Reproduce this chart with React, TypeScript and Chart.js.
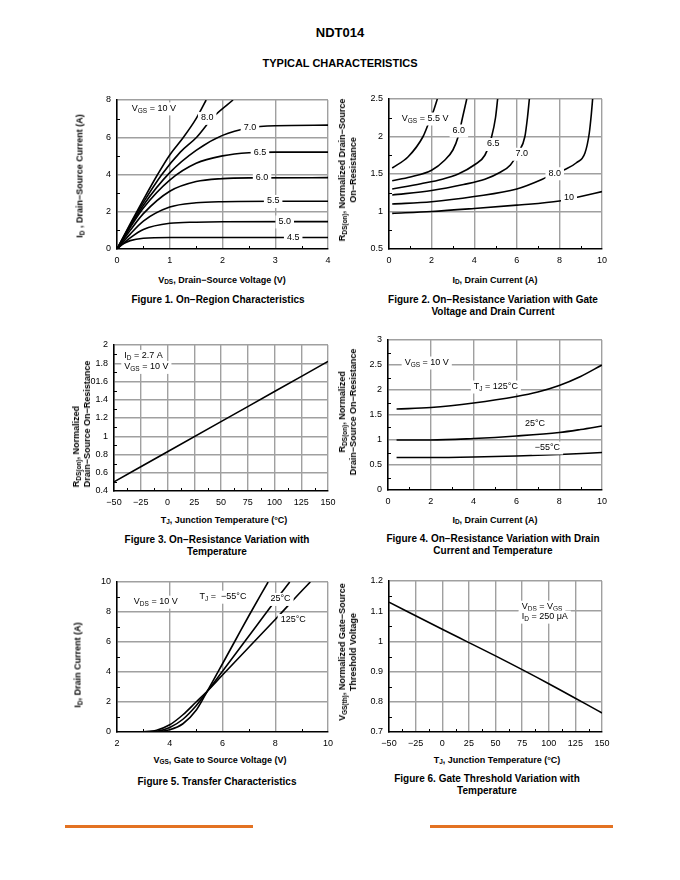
import React, { useEffect, useRef } from 'react';
import { Chart, registerables } from 'chart.js';

Chart.register(...registerables);

const FONT = '"Liberation Sans", Arial, Helvetica, sans-serif';
const GRID = '#a0a0a0';

type Pt = [number, number];
type Part = [string, boolean?];
type Lbl = { x: number; y: number; parts: Part[]; align?: 'left' | 'center'; bg?: boolean };

// ---------------- Figure 1: On-Region Characteristics ----------------
const F1_X_TICKS = [0, 1, 2, 3, 4];
const F1_X_LABELS = ['0', '1', '2', '3', '4'];
const F1_Y_TICKS = [0, 2, 4, 6, 8];
const F1_Y_LABELS = ['0', '2', '4', '6', '8'];
const F1_VGS_10: Pt[] = [[0, 0], [0.25, 1.35], [0.5, 2.65], [0.77, 4.0], [1.0, 5.05], [1.26, 6.0], [1.5, 7.0], [1.69, 8.0]];
const F1_VGS_8: Pt[] = [[0, 0], [0.25, 1.3], [0.5, 2.5], [0.85, 4.0], [1.2, 5.2], [1.51, 6.0], [1.83, 7.1], [2.2, 8.0]];
const F1_VGS_7: Pt[] = [[0, 0], [0.25, 1.2], [0.5, 2.35], [1.0, 4.1], [1.5, 5.3], [2.0, 6.1], [2.5, 6.5], [3.0, 6.62], [4.0, 6.65]];
const F1_VGS_65: Pt[] = [[0, 0], [0.25, 1.15], [0.5, 2.2], [1.0, 3.7], [1.5, 4.6], [2.0, 5.0], [2.5, 5.17], [3.0, 5.2], [4.0, 5.2]];
const F1_VGS_6: Pt[] = [[0, 0], [0.25, 1.0], [0.5, 1.9], [1.0, 3.1], [1.5, 3.62], [2.0, 3.78], [2.5, 3.82], [4.0, 3.83]];
const F1_VGS_55: Pt[] = [[0, 0], [0.25, 0.8], [0.5, 1.5], [1.0, 2.25], [1.5, 2.48], [2.0, 2.54], [3.0, 2.56], [4.0, 2.56]];
const F1_VGS_5: Pt[] = [[0, 0], [0.25, 0.6], [0.5, 1.05], [1.0, 1.38], [1.5, 1.44], [2.0, 1.46], [4.0, 1.47]];
const F1_VGS_45: Pt[] = [[0, 0], [0.1, 0.25], [0.25, 0.45], [0.5, 0.58], [1.0, 0.62], [4.0, 0.62]];
const F1_LABELS: Lbl[] = [
  { x: 0.28, y: 7.55, parts: [['V'], ['GS', true], [' = 10 V']], align: 'left', bg: true },
  { x: 1.71, y: 7.04, parts: [['8.0']], bg: true },
  { x: 2.52, y: 6.5, parts: [['7.0']], bg: true },
  { x: 2.71, y: 5.16, parts: [['6.5']], bg: true },
  { x: 2.75, y: 3.84, parts: [['6.0']], bg: true },
  { x: 2.96, y: 2.58, parts: [['5.5']], bg: true },
  { x: 3.18, y: 1.48, parts: [['5.0']], bg: true },
  { x: 3.34, y: 0.6, parts: [['4.5']], bg: true },
];

// ---------------- Figure 2: On-Resistance vs Gate Voltage & Drain Current ----------------
const F2_X_TICKS = [0, 2, 4, 6, 8, 10];
const F2_X_LABELS = ['0', '2', '4', '6', '8', '10'];
const F2_Y_TICKS = [0.5, 1, 1.5, 2, 2.5];
const F2_Y_LABELS = ['0.5', '1', '1.5', '2', '2.5'];
const F2_VGS_55: Pt[] = [[0.15, 1.58], [0.9, 1.73], [1.6, 2.0], [1.85, 2.17], [2.1, 2.35], [2.27, 2.5]];
const F2_VGS_6: Pt[] = [[0.15, 1.41], [1.0, 1.46], [2.0, 1.55], [2.6, 1.68], [3.0, 1.82], [3.25, 2.0], [3.45, 2.25], [3.65, 2.5]];
const F2_VGS_65: Pt[] = [[0.15, 1.3], [1.5, 1.37], [2.5, 1.43], [3.25, 1.5], [4.0, 1.62], [4.5, 1.75], [4.82, 2.0], [5.0, 2.25], [5.1, 2.5]];
const F2_VGS_7: Pt[] = [[0.15, 1.22], [2.0, 1.28], [3.5, 1.36], [4.5, 1.43], [5.2, 1.52], [5.7, 1.62], [6.1, 1.8], [6.38, 2.0], [6.5, 2.25], [6.59, 2.5]];
const F2_VGS_8: Pt[] = [[0.15, 1.1], [2.0, 1.13], [4.0, 1.2], [6.0, 1.3], [7.2, 1.43], [7.7, 1.5], [8.26, 1.56], [8.8, 1.65], [9.2, 1.78], [9.4, 2.04], [9.5, 2.3], [9.56, 2.5]];
const F2_VGS_10: Pt[] = [[0.15, 0.975], [2.0, 1.0], [4.0, 1.04], [6.0, 1.085], [8.0, 1.14], [8.5, 1.17], [9.0, 1.2], [10, 1.265]];
const F2_LABELS: Lbl[] = [
  { x: 0.6, y: 2.24, parts: [['V'], ['GS', true], [' = 5.5 V']], align: 'left', bg: true },
  { x: 3.28, y: 2.08, parts: [['6.0']], bg: true },
  { x: 4.9, y: 1.9, parts: [['6.5']], bg: true },
  { x: 6.23, y: 1.77, parts: [['7.0']], bg: true },
  { x: 7.78, y: 1.51, parts: [['8.0']], bg: true },
  { x: 8.45, y: 1.18, parts: [['10']], bg: true },
];

// ---------------- Figure 3: On-Resistance vs Temperature ----------------
const F3_X_TICKS = [-50, -25, 0, 25, 50, 75, 100, 125, 150];
const F3_X_LABELS = ['\u221250', '\u221225', '0', '25', '50', '75', '100', '125', '150'];
const F3_Y_TICKS = [0.4, 0.6, 0.8, 1, 1.2, 1.4, 1.6, 1.8, 2];
const F3_Y_LABELS = ['0.4', '0.6', '0.8', '1', '1.2', '1.4', '01.6', '1.8', '2'];
const F3_RDS: Pt[] = [[-50, 0.5], [0, 0.83], [50, 1.16], [100, 1.49], [150, 1.82]];
const F3_LABELS: Lbl[] = [
  { x: -40.4, y: 1.88, parts: [['I'], ['D', true], [' = 2.7 A']], align: 'left', bg: true },
  { x: -40.4, y: 1.76, parts: [['V'], ['GS', true], [' = 10 V']], align: 'left', bg: true },
];

// ---------------- Figure 4: On-Resistance vs Drain Current & Temperature ----------------
const F4_X_TICKS = [0, 2, 4, 6, 8, 10];
const F4_X_LABELS = ['0', '2', '4', '6', '8', '10'];
const F4_Y_TICKS = [0, 0.5, 1, 1.5, 2, 2.5, 3];
const F4_Y_LABELS = ['0', '0.5', '1', '1.5', '2', '2.5', '3'];
const F4_TJ_125: Pt[] = [[0.4, 1.62], [2, 1.65], [4, 1.74], [6, 1.87], [7, 1.96], [8, 2.09], [9, 2.27], [10, 2.5]];
const F4_TJ_25: Pt[] = [[0.4, 1.0], [2, 1.0], [4, 1.03], [6, 1.08], [8, 1.15], [9, 1.21], [10, 1.28]];
const F4_TJ_M55: Pt[] = [[0.4, 0.65], [2, 0.65], [4, 0.66], [6, 0.68], [8, 0.71], [10, 0.75]];
const F4_LABELS: Lbl[] = [
  { x: 1.81, y: 2.55, parts: [['V'], ['GS', true], [' = 10 V']], bg: true },
  { x: 5.04, y: 2.07, parts: [['T'], ['J', true], [' = 125\u00B0C']], bg: true },
  { x: 6.87, y: 1.32, parts: [['25\u00B0C']], bg: true },
  { x: 7.45, y: 0.85, parts: [['\u221255\u00B0C']], bg: true },
];

// ---------------- Figure 5: Transfer Characteristics ----------------
const F5_X_TICKS = [2, 4, 6, 8, 10];
const F5_X_LABELS = ['2', '4', '6', '8', '10'];
const F5_Y_TICKS = [0, 2, 4, 6, 8, 10];
const F5_Y_LABELS = ['0', '2', '4', '6', '8', '10'];
const F5_TJ_M55: Pt[] = [[2.6, 0], [3.5, 0.02], [4.0, 0.15], [4.5, 0.55], [5.0, 1.45], [5.4, 2.65], [6.0, 4.55], [6.5, 6.15], [7.0, 7.75], [7.73, 10]];
const F5_TJ_25: Pt[] = [[2.6, 0], [3.5, 0.05], [4.0, 0.3], [4.5, 0.85], [5.0, 1.75], [5.4, 2.65], [6.0, 4.05], [7.0, 6.4], [8.0, 8.75], [8.55, 10]];
const F5_TJ_125: Pt[] = [[2.6, 0], [3.0, 0.02], [3.5, 0.12], [4.0, 0.48], [4.5, 1.15], [5.0, 2.0], [5.4, 2.68], [6.0, 3.8], [7.0, 5.65], [8.0, 7.5], [9.0, 9.4], [9.33, 10]];
const F5_LABELS: Lbl[] = [
  { x: 3.47, y: 8.69, parts: [['V'], ['DS', true], [' = 10 V']], bg: true },
  { x: 6.02, y: 9.02, parts: [['T'], ['J', true], [' =  \u221255\u00B0C']], bg: true },
  { x: 8.2, y: 8.87, parts: [['25\u00B0C']], bg: true },
  { x: 8.68, y: 7.47, parts: [['125\u00B0C']], bg: true },
];

// ---------------- Figure 6: Gate Threshold vs Temperature ----------------
const F6_X_TICKS = [-50, -25, 0, 25, 50, 75, 100, 125, 150];
const F6_X_LABELS = ['\u221250', '\u221225', '0', '25', '50', '75', '100', '125', '150'];
const F6_Y_TICKS = [0.7, 0.8, 0.9, 1, 1.1, 1.2];
const F6_Y_LABELS = ['0.7', '0.8', '0.9', '1', '1.1', '1.2'];
const F6_VTH: Pt[] = [[-50, 1.13], [0, 1.04], [50, 0.952], [100, 0.86], [150, 0.763]];
const F6_LABELS: Lbl[] = [
  { x: 74.6, y: 1.115, parts: [['V'], ['DS', true], [' = V'], ['GS', true]], align: 'left', bg: true },
  { x: 74.6, y: 1.082, parts: [['I'], ['D', true], [' = 250 \u03BCA']], align: 'left', bg: true },
];

// ---------------- layout constants ----------------
const PAD_L = 45;
const PAD_R = 15;
const PAD_T = 12;
const PAD_B = 22;
const MAIN_FONT = `9px ${FONT}`;
const SUB_FONT = `6.5px ${FONT}`;

const richLabelPlugin = {
  id: 'richLabels',
  afterDatasetsDraw(chart: any, _args: any, opts: any) {
    const { ctx, scales } = chart;
    const items: Lbl[] = opts.items || [];
    ctx.save();
    ctx.textBaseline = 'middle';
    for (const it of items) {
      let w = 0;
      for (const [t, sub] of it.parts) {
        ctx.font = sub ? SUB_FONT : MAIN_FONT;
        w += ctx.measureText(t).width;
      }
      const px = scales.x.getPixelForValue(it.x);
      const py = scales.y.getPixelForValue(it.y);
      let sx = it.align === 'left' ? px : px - w / 2;
      if (it.bg) {
        ctx.fillStyle = '#ffffff';
        ctx.fillRect(sx - 3, py - 6, w + 6, 13);
      }
      ctx.fillStyle = '#000000';
      for (const [t, sub] of it.parts) {
        ctx.font = sub ? SUB_FONT : MAIN_FONT;
        ctx.fillText(t, sx, py + (sub ? 2.5 : 0));
        sx += ctx.measureText(t).width;
      }
    }
    ctx.restore();
  },
};

const minorTickPlugin = {
  id: 'minorTicks',
  afterDraw(chart: any) {
    const { ctx, chartArea: a, scales } = chart;
    ctx.save();
    ctx.strokeStyle = '#000';
    ctx.lineWidth = 1;
    const xs = scales.x.ticks.map((t: any) => t.value);
    for (let i = 0; i < xs.length - 1; i++) {
      const px = Math.round(scales.x.getPixelForValue((xs[i] + xs[i + 1]) / 2)) + 0.5;
      ctx.beginPath();
      ctx.moveTo(px, a.bottom);
      ctx.lineTo(px, a.bottom - 3);
      ctx.stroke();
    }
    const ys = scales.y.ticks.map((t: any) => t.value);
    for (let i = 0; i < ys.length - 1; i++) {
      const py = Math.round(scales.y.getPixelForValue((ys[i] + ys[i + 1]) / 2)) + 0.5;
      ctx.beginPath();
      ctx.moveTo(a.left, py);
      ctx.lineTo(a.left + 3, py);
      ctx.stroke();
    }
    ctx.restore();
  },
};

function axis(values: number[], labels: string[], isX: boolean) {
  return {
    type: 'linear',
    min: values[0],
    max: values[values.length - 1],
    afterBuildTicks: (sc: any) => {
      sc.ticks = values.map((v) => ({ value: v }));
    },
    afterFit: (sc: any) => {
      if (isX) sc.height = PAD_B;
      else sc.width = PAD_L;
    },
    ticks: {
      callback: (v: number, i: number) => (labels[i] !== undefined ? labels[i] : String(v)),
      color: '#000',
      font: { family: FONT, size: 9 },
      padding: 6,
      maxRotation: 0,
      autoSkip: false,
    },
    grid: {
      color: (c: any) => (c.index === 0 ? 'rgba(0,0,0,0)' : GRID),
      lineWidth: 1.4,
      drawTicks: false,
    },
    border: { color: '#000', width: 1.6 },
  };
}

type Spec = {
  xTicks: number[]; xLabels: string[]; yTicks: number[]; yLabels: string[];
  series: Pt[][]; labels: Lbl[]; straight?: boolean;
};

function MiniChart({ left, top, w, h, spec }: { left: number; top: number; w: number; h: number; spec: Spec }) {
  const ref = useRef<HTMLCanvasElement | null>(null);
  useEffect(() => {
    if (!ref.current) return;
    const chart = new Chart(ref.current, {
      type: 'line',
      data: {
        datasets: spec.series.map((pts) => ({
          data: pts.map(([x, y]) => ({ x, y })),
          borderColor: '#000',
          borderWidth: 1.6,
          pointRadius: 0,
          fill: false,
          cubicInterpolationMode: 'monotone',
        })),
      },
      options: {
        responsive: false,
        animation: false,
        events: [],
        layout: { padding: { left: 0, top: PAD_T, right: PAD_R, bottom: 0 } },
        plugins: {
          legend: { display: false },
          tooltip: { enabled: false },
          richLabels: { items: spec.labels },
        } as any,
        scales: {
          x: axis(spec.xTicks, spec.xLabels, true),
          y: axis(spec.yTicks, spec.yLabels, false),
        } as any,
      },
      plugins: [richLabelPlugin, minorTickPlugin],
    } as any);
    return () => chart.destroy();
  }, []);
  const W = w + PAD_L + PAD_R;
  const H = h + PAD_T + PAD_B;
  return (
    <canvas
      ref={ref}
      width={W}
      height={H}
      style={{ position: 'absolute', left: left - PAD_L, top: top - PAD_T, width: W, height: H }}
    />
  );
}

function Txt({ x, y, size = 9, bold = true, rot = false, lh, align = 'center', children }: any) {
  return (
    <div
      style={{
        position: 'absolute',
        left: x,
        top: y,
        transform: `translate(-50%, -50%)${rot ? ' rotate(-90deg)' : ''}`,
        fontFamily: FONT,
        fontSize: size,
        fontWeight: bold ? 700 : 400,
        whiteSpace: 'nowrap',
        lineHeight: `${lh || Math.round(size * 1.2)}px`,
        textAlign: align,
        color: '#000',
      }}
    >
      {children}
    </div>
  );
}

function Sub({ children }: any) {
  return <span style={{ fontSize: '0.72em', verticalAlign: '-0.3em', lineHeight: 0 }}>{children}</span>;
}

export default function App() {
  return (
    <div style={{ position: 'absolute', left: 0, top: 0, width: 680, height: 880, background: '#fff', overflow: 'hidden' }}>
      <Txt x={340} y={33} size={13}>NDT014</Txt>
      <Txt x={340} y={63} size={11}>TYPICAL CHARACTERISTICS</Txt>

      {/* Figure 1 */}
      <MiniChart left={117} top={100} w={211} h={149} spec={{
        xTicks: F1_X_TICKS, xLabels: F1_X_LABELS, yTicks: F1_Y_TICKS, yLabels: F1_Y_LABELS,
        series: [F1_VGS_10, F1_VGS_8, F1_VGS_7, F1_VGS_65, F1_VGS_6, F1_VGS_55, F1_VGS_5, F1_VGS_45],
        labels: F1_LABELS,
      }} />
      <Txt x={80} y={176} rot>I<Sub>D</Sub> , Drain&#8722;Source Current (A)</Txt>
      <Txt x={222} y={280}>V<Sub>DS</Sub>, Drain&#8722;Source Voltage (V)</Txt>
      <Txt x={218} y={300} size={10}>Figure 1. On&#8722;Region Characteristics</Txt>

      {/* Figure 2 */}
      <MiniChart left={389} top={99} w={213} h={150} spec={{
        xTicks: F2_X_TICKS, xLabels: F2_X_LABELS, yTicks: F2_Y_TICKS, yLabels: F2_Y_LABELS,
        series: [F2_VGS_55, F2_VGS_6, F2_VGS_65, F2_VGS_7, F2_VGS_8, F2_VGS_10],
        labels: F2_LABELS,
      }} />
      <Txt x={348} y={170} rot lh={11}>R<Sub>DS(on)</Sub>, Normalized Drain&#8722;Source<br />On&#8722;Resistance</Txt>
      <Txt x={495} y={280}>I<Sub>D</Sub>, Drain Current (A)</Txt>
      <Txt x={493} y={306} size={10} lh={12}>Figure 2. On&#8722;Resistance Variation with Gate<br />Voltage and Drain Current</Txt>

      {/* Figure 3 */}
      <MiniChart left={114} top={345} w={214} h={146} spec={{
        xTicks: F3_X_TICKS, xLabels: F3_X_LABELS, yTicks: F3_Y_TICKS, yLabels: F3_Y_LABELS,
        series: [F3_RDS],
        labels: F3_LABELS,
      }} />
      <Txt x={82} y={424} rot lh={11} align="left">R<Sub>DS(on)</Sub>, Normalized<br />Drain&#8722;Source On&#8722;Resistance</Txt>
      <Txt x={224} y={520}>T<Sub>J</Sub>, Junction Temperature (&#176;C)</Txt>
      <Txt x={217} y={546} size={10} lh={12}>Figure 3. On&#8722;Resistance Variation with<br />Temperature</Txt>

      {/* Figure 4 */}
      <MiniChart left={388} top={340} w={214} h={150} spec={{
        xTicks: F4_X_TICKS, xLabels: F4_X_LABELS, yTicks: F4_Y_TICKS, yLabels: F4_Y_LABELS,
        series: [F4_TJ_125, F4_TJ_25, F4_TJ_M55],
        labels: F4_LABELS,
      }} />
      <Txt x={348} y={412} rot lh={11}>R<Sub>DS(on)</Sub>, Normalized<br />Drain&#8722;Source On&#8722;Resistance</Txt>
      <Txt x={495} y={520}>I<Sub>D</Sub>, Drain Current (A)</Txt>
      <Txt x={493} y={545} size={10} lh={12}>Figure 4. On&#8722;Resistance Variation with Drain<br />Current and Temperature</Txt>

      {/* Figure 5 */}
      <MiniChart left={117} top={582} w={211} h={150} spec={{
        xTicks: F5_X_TICKS, xLabels: F5_X_LABELS, yTicks: F5_Y_TICKS, yLabels: F5_Y_LABELS,
        series: [F5_TJ_M55, F5_TJ_25, F5_TJ_125],
        labels: F5_LABELS,
      }} />
      <Txt x={78} y={665} rot>I<Sub>D</Sub>, Drain Current (A)</Txt>
      <Txt x={220} y={760}>V<Sub>GS</Sub>, Gate to Source Voltage (V)</Txt>
      <Txt x={217} y={782} size={10}>Figure 5. Transfer Characteristics</Txt>

      {/* Figure 6 */}
      <MiniChart left={389} top={581} w={213} h={151} spec={{
        xTicks: F6_X_TICKS, xLabels: F6_X_LABELS, yTicks: F6_Y_TICKS, yLabels: F6_Y_LABELS,
        series: [F6_VTH],
        labels: F6_LABELS,
      }} />
      <Txt x={348} y={652} rot lh={11}>V<Sub>GS(th)</Sub>, Normalized Gate&#8722;Source<br />Threshold Voltage</Txt>
      <Txt x={497} y={760}>T<Sub>J</Sub>, Junction Temperature (&#176;C)</Txt>
      <Txt x={487} y={785} size={10} lh={12}>Figure 6. Gate Threshold Variation with<br />Temperature</Txt>

      <div style={{ position: 'absolute', left: 65, top: 825, width: 188, height: 3, background: '#E37222' }} />
      <div style={{ position: 'absolute', left: 430, top: 825, width: 183, height: 3, background: '#E37222' }} />
    </div>
  );
}
